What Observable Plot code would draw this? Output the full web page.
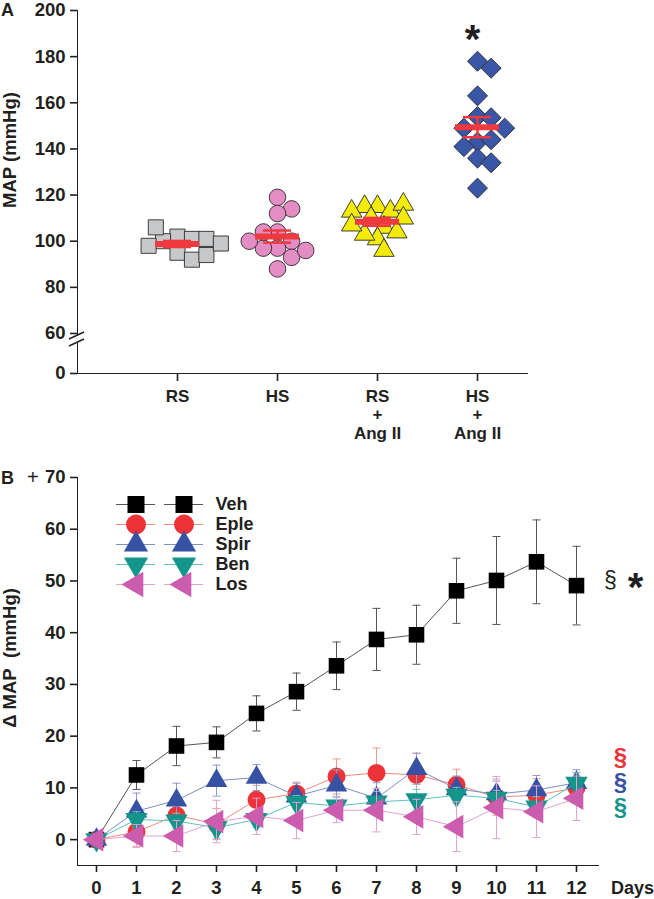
<!DOCTYPE html>
<html>
<head>
<meta charset="utf-8">
<script src="https://cdn.jsdelivr.net/npm/d3@7"></script>
<script src="https://cdn.jsdelivr.net/npm/@observablehq/plot@0.6"></script>
<style>
  body { margin: 0; background: #fff; }
  #wrap { position: relative; width: 654px; height: 899px; font-family: "Liberation Sans", Arial, sans-serif; font-weight: bold; color: #231f20; overflow: hidden; }
  .abs { position: absolute; white-space: nowrap; line-height: 1; }
  .pl { position: absolute; left: 0; }
  #wrap svg [aria-label*="axis"] path, #wrap svg [aria-label*="axis"] line { stroke-width: 1.6px; }
  .rot { position: absolute; white-space: nowrap; line-height: 1; transform: translate(-50%, -50%) rotate(-90deg); }
</style>
</head>
<body>
<div id="wrap">
  <div class="abs" style="left:1px;top:1px;font-size:18px;">A</div>
  <div class="rot" style="left:10px;top:150px;font-size:18.5px;">MAP (mmHg)</div>
  <div id="panelA" class="pl" style="top:0px;"></div>
  <div id="panelB" class="pl" style="top:450px;"></div>
  <div id="legendB" class="pl" style="top:470px;left:105px;"></div>
  <div class="abs" style="left:1px;top:469px;font-size:18px;">B</div>
  <div class="abs" style="left:27px;top:467px;font-size:20px;font-weight:normal;">+</div>
  <div class="rot" style="left:10px;top:658px;font-size:18.5px;">Δ MAP&nbsp;&nbsp;(mmHg)</div>
  <div class="abs" style="left:611px;top:879px;font-size:18px;">Days</div>
</div>
<script>
// ---------------- Panel A data ----------------
const catsA = ["RS", "HS", "RS\n+\nAng II", "HS\n+\nAng II"];
const mapRS = [102, 101, 100, 106, 95, 92, 101, 98, 94, 99];
const mapHS = [119, 114, 112, 104, 100, 97, 97, 93, 88, 96, 104, 100];
const mapRSAng = [115, 113, 115, 110, 106, 101, 103, 116, 113, 110, 107, 104, 96];
const mapHSAng = [178, 175, 163, 154, 153.5, 149, 143, 144, 149, 141, 136, 134, 123];
const yTicksA = [0, 60, 80, 100, 120, 140, 160, 180, 200];

// ---------------- Panel B data ----------------
const daysB = [0, 1, 2, 3, 4, 5, 6, 7, 8, 9, 10, 11, 12];
const seriesB = ["Veh", "Eple", "Spir", "Ben", "Los"];
const meanVeh  = [0, 12.5, 18.1, 18.8, 24.4, 28.6, 33.6, 38.7, 39.6, 48.1, 50.1, 53.7, 49.1];
const semVeh   = [0, 2.8, 3.8, 3.0, 3.4, 3.6, 4.6, 6.0, 5.7, 6.3, 8.5, 8.1, 7.6];
const meanEple = [0, 1.5, 4.7, 3.0, 7.7, 8.9, 12.2, 12.9, 12.5, 10.6, 8.2, 8.6, 10.0];
const semEple  = [0, 2.8, 2.2, 3.0, 2.8, 2.2, 3.4, 4.8, 4.2, 3.0, 3.5, 3.2, 3.0];
const meanSpir = [0, 5.5, 7.6, 11.4, 12.0, 8.4, 10.5, 8.0, 13.7, 9.8, 8.8, 9.6, 11.0];
const semSpir  = [0, 3.5, 3.3, 3.0, 2.5, 2.5, 3.0, 3.0, 3.0, 2.5, 2.5, 2.8, 2.5];
const meanBen  = [0, 3.9, 3.6, 2.3, 3.9, 7.2, 6.5, 7.3, 7.7, 8.6, 8.0, 6.3, 10.9];
const semBen   = [0, 1.5, 1.5, 2.0, 1.5, 1.3, 1.8, 2.0, 2.0, 1.5, 1.5, 2.0, 2.0];
const meanLos  = [0, 0.7, 0.7, 3.5, 4.5, 3.7, 5.7, 5.7, 4.4, 2.5, 6.2, 5.4, 8.0];
const semLos   = [0, 2.2, 3.0, 4.1, 3.5, 3.5, 2.4, 4.2, 3.4, 4.8, 6.0, 5.0, 4.3];
const sigB = [{s: "Eple", v: 15.9}, {s: "Spir", v: 11.0}, {s: "Ben", v: 6.2}];

// ---------------- styles ----------------
const RED = "#ee3a3f";
const fillA = ["#c7c8ca", "#e48cc4", "#f4eb0a", "#3a56a6"];
const markerFill = ["#000000", "#ec3338", "#3852a3", "#14958c", "#cc5cad"];
const lineColor = ["#555555", "#f08a80", "#7d8fcc", "#5dc2b9", "#e3a2d2"];
const errColor = ["#555555", "#f29a90", "#8d9bd2", "#6cc8c0", "#e3a2d2"];
const TICK_FONT = "18.5px";

function tri(angle) {
  return {draw(ctx, size) {
    const y = -Math.sqrt(size / (Math.sqrt(3) * 3));
    const pts = [[0, y * 2], [-Math.sqrt(3) * y, -y], [Math.sqrt(3) * y, -y]];
    const c = Math.cos(angle), s = Math.sin(angle);
    pts.forEach(([px, py], k) => {
      const X = px * c - py * s, Y = px * s + py * c;
      k ? ctx.lineTo(X, Y) : ctx.moveTo(X, Y);
    });
    ctx.closePath();
  }};
}
const diamond = {draw(ctx, size) {
  const h = Math.sqrt(size / 2);
  ctx.moveTo(0, -h); ctx.lineTo(h, 0); ctx.lineTo(0, h); ctx.lineTo(-h, 0); ctx.closePath();
}};
const hbar = {draw(ctx, size) {
  const w = Math.sqrt(size) / 2;
  ctx.moveTo(-w, 0); ctx.lineTo(w, 0);
}};

const symbolsA = ["square", "circle", tri(0), diamond];
const rA = [8.5, 8.3, 7.6, 8.0];
const symbolB = ["square", "circle", tri(0), tri(Math.PI), tri(-Math.PI / 2)];
const rB = [8.8, 9, 8, 8.3, 8.8];
const rLeg = [9.6, 10, 9, 9, 9.4];

// ---------------- Panel A (broken axis: 0–60 compressed) ----------------
const xDomA = [-1, 3.5];
const yTopA = 10, yBreakPx = 333, yBottomA = 373;
const pxPerY = (yBreakPx - yTopA) / (200 - 60);
const lowScale = ((yBottomA - yBreakPx) / pxPerY) / 60;
const tA = v => v >= 60 ? v : 60 - (60 - v) * lowScale;
const yDomA = [tA(0), 200];
const pxPerX = (654 - 77 - 127) / (xDomA[1] - xDomA[0]);

function swarm(vals, r) {
  const placed = [];
  return vals.map(v => {
    const py = v * pxPerY;
    let off = 0;
    for (let k = 0; k < 400; k++) {
      const cand = k === 0 ? 0 : (k % 2 ? 1 : -1) * Math.ceil(k / 2) * r * 0.85;
      if (placed.every(([qx, qy]) => Math.hypot(qx - cand, qy - py) >= r * 1.7)) { off = cand; break; }
    }
    placed.push([off, py]);
    return off / pxPerX;
  });
}

const valuesA = [mapRS, mapHS, mapRSAng, mapHSAng];
const pointsA = valuesA.flatMap((vals, gi) => {
  const offs = swarm(vals, rA[gi]);
  return vals.map((v, k) => ({gi, v, x: gi + offs[k]}));
});
const summaryA = valuesA.map((vals, gi) => ({
  gi, mean: d3.mean(vals), sem: d3.deviation(vals) / Math.sqrt(vals.length), max: d3.max(vals)
}));

const axisBreak = (index, scales) => {
  const g = d3.create("svg:g");
  const x0 = scales.x(xDomA[0]);
  const yb = scales.y(tA(60));
  g.append("rect").attr("x", x0 - 8).attr("y", yb + 3).attr("width", 16).attr("height", 7).attr("fill", "white");
  g.append("line").attr("x1", x0 - 8).attr("y1", yb + 6).attr("x2", x0 + 7).attr("y2", yb - 1).attr("stroke", "#231f20").attr("stroke-width", 1.4);
  g.append("line").attr("x1", x0 - 8).attr("y1", yb + 13).attr("x2", x0 + 7).attr("y2", yb + 6).attr("stroke", "#231f20").attr("stroke-width", 1.4);
  return g.node();
};

const baseStyle = {fontFamily: "'Liberation Sans', Arial, sans-serif", fontSize: TICK_FONT, fontWeight: "bold", color: "#231f20", background: "transparent", overflow: "visible"};

const plotA = Plot.plot({
  width: 654, height: 450,
  marginLeft: 77, marginRight: 127, marginTop: yTopA, marginBottom: 450 - yBottomA,
  style: baseStyle,
  x: {domain: xDomA, ticks: [0, 1, 2, 3], tickFormat: () => "", tickSize: 8, line: true, label: null},
  y: {domain: yDomA, ticks: yTicksA.map(tA), tickFormat: d => yTicksA[yTicksA.map(tA).findIndex(t => Math.abs(t - d) < 1e-6)],
      tickSize: 7, tickPadding: 5, line: true, label: null},
  marks: [
    ...symbolsA.map((sym, gi) => Plot.dot(pointsA.filter(d => d.gi === gi), {
      x: "x", y: d => tA(d.v), symbol: sym, r: rA[gi], fill: fillA[gi], stroke: "#2b2b2b", strokeWidth: 0.9
    })),
    Plot.ruleY(summaryA, {y: d => tA(d.mean), x1: d => d.gi - 0.22, x2: d => d.gi + 0.22, stroke: RED, strokeWidth: 6}),
    Plot.ruleX(summaryA, {x: "gi", y1: d => tA(d.mean - d.sem), y2: d => tA(d.mean + d.sem), stroke: RED, strokeWidth: 2.5}),
    Plot.ruleY(summaryA, {y: d => tA(d.mean + d.sem), x1: d => d.gi - 0.14, x2: d => d.gi + 0.14, stroke: RED, strokeWidth: 2.5}),
    Plot.ruleY(summaryA, {y: d => tA(d.mean - d.sem), x1: d => d.gi - 0.14, x2: d => d.gi + 0.14, stroke: RED, strokeWidth: 2.5}),
    Plot.text(catsA, {x: (d, i) => i, frameAnchor: "bottom", lineAnchor: "top", dy: 15, text: d => d,
      fontSize: 17, fontWeight: "bold", lineHeight: 1.1, fill: "#231f20"}),
    Plot.text([summaryA[3]], {x: "gi", y: d => tA(d.max), text: () => "*", dx: -5, dy: -21, fontSize: 40, fontWeight: "bold", fill: "#231f20"}),
    axisBreak
  ]
});
document.getElementById("panelA").appendChild(plotA);

// ---------------- Panel B ----------------
const meansB = [meanVeh, meanEple, meanSpir, meanBen, meanLos];
const semsB = [semVeh, semEple, semSpir, semBen, semLos];
const rowsB = seriesB.map((s, si) => daysB.map((d, k) => ({s, day: d, v: meansB[si][k], sem: semsB[si][k]})));

const marksB = [];
seriesB.forEach((s, si) => {
  const rows = rowsB[si];
  const errRows = rows.filter(d => d.sem > 0);
  marksB.push(
    Plot.line(rows, {x: "day", y: "v", stroke: lineColor[si], strokeWidth: 1}),
    Plot.ruleX(errRows, {x: "day", y1: d => d.v - d.sem, y2: d => d.v + d.sem, stroke: errColor[si], strokeWidth: 1}),
    Plot.dot(errRows, {x: "day", y: d => d.v + d.sem, symbol: hbar, r: 4.5, fill: "none", stroke: errColor[si], strokeWidth: 1}),
    Plot.dot(errRows, {x: "day", y: d => d.v - d.sem, symbol: hbar, r: 4.5, fill: "none", stroke: errColor[si], strokeWidth: 1}),
    Plot.dot(rows, {x: "day", y: "v", symbol: symbolB[si], r: rB[si], fill: markerFill[si], stroke: "none"})
  );
});
const vehLast = rowsB[0][rowsB[0].length - 1];
marksB.push(
  Plot.text([vehLast], {x: "day", y: "v", text: () => "§", dx: 34, dy: -5, fontSize: 23, fontWeight: "normal", fill: "#231f20"}),
  Plot.text([vehLast], {x: "day", y: "v", text: () => "*", dx: 59, dy: 3, fontSize: 40, fontWeight: "bold", fill: "#231f20"})
);
sigB.forEach(d => {
  const si = seriesB.indexOf(d.s);
  marksB.push(Plot.text([d], {x: () => daysB[daysB.length - 1], y: "v", text: () => "§", dx: 44, fontSize: 24, fontWeight: "bold", fill: markerFill[si]}));
});

const plotB = Plot.plot({
  width: 654, height: 449,
  marginLeft: 77, marginRight: 56, marginTop: 27, marginBottom: 34,
  style: baseStyle,
  x: {domain: [-0.475, 12.55], ticks: daysB, tickSize: 7, tickPadding: 8, line: true, label: null},
  y: {domain: [-5, 70], ticks: [0, 10, 20, 30, 40, 50, 60, 70], tickSize: 7, tickPadding: 5, line: true, label: null},
  marks: marksB
});
document.getElementById("panelB").appendChild(plotB);

// ---------------- Legend B ----------------
const legCols = ["a", "b"];
const legMarks = seriesB.flatMap((s, si) => {
  const rows = legCols.map(c => ({s, c}));
  return [
    Plot.tickY(rows, {x: "c", y: "s", stroke: lineColor[si], strokeWidth: 1}),
    Plot.dot(rows, {x: "c", y: "s", symbol: symbolB[si], r: rLeg[si], fill: markerFill[si], stroke: "none"})
  ];
});
legMarks.push(Plot.text(seriesB, {y: d => d, frameAnchor: "right", textAnchor: "start", text: d => d, fontSize: 18, fontWeight: "bold", fill: "#231f20"}));
const legend = Plot.plot({
  width: 170, height: 140, marginLeft: 0, marginRight: 60, marginTop: 0, marginBottom: 0,
  style: baseStyle,
  x: {type: "band", domain: legCols, range: [10, 99], paddingInner: 0.18, paddingOuter: 0, axis: null},
  y: {type: "point", domain: seriesB, range: [24, 124], axis: null},
  marks: legMarks
});
document.getElementById("legendB").appendChild(legend);
</script>
</body>
</html>
